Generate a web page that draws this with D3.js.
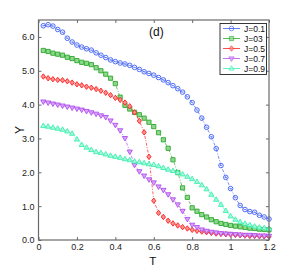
<!DOCTYPE html>
<html>
<head>
<meta charset="utf-8">
<script src="https://cdn.jsdelivr.net/npm/d3@7"></script>
<style>
  body { margin: 0; background: #fff; }
  svg { display: block; font-family: "Liberation Sans", Arial, sans-serif; }
</style>
</head>
<body>
<div class="canva"></div>
<script>
// temperatura T, de 0.025 a 1.2
const tValues = [0.025,0.05,0.075,0.1,0.125,0.15,0.175,0.2,0.225,0.25,0.275,0.3,0.325,0.35,0.375,0.4,
  0.425,0.45,0.475,0.5,0.525,0.55,0.575,0.6,0.625,0.65,0.675,0.7,0.725,0.75,0.775,0.8,
  0.825,0.85,0.875,0.9,0.925,0.95,0.975,1.0,1.025,1.05,1.075,1.1,1.125,1.15,1.175,1.2];

const yJ01 = [6.33,6.36,6.32,6.22,6.14,5.96,5.85,5.76,5.70,5.65,5.61,5.53,5.46,5.39,5.32,5.27,
  5.23,5.20,5.16,5.10,5.04,4.97,4.92,4.87,4.80,4.73,4.65,4.56,4.47,4.37,4.23,4.06,
  3.84,3.60,3.33,3.05,2.70,2.20,1.85,1.52,1.25,1.02,0.90,0.84,0.82,0.73,0.68,0.62];
const yJ03 = [5.60,5.57,5.52,5.49,5.46,5.40,5.36,5.30,5.25,5.22,5.18,5.09,5.00,4.90,4.78,4.62,
  4.22,3.98,3.87,3.77,3.70,3.60,3.48,3.35,3.17,2.96,2.71,2.37,1.99,1.54,1.26,0.95,
  0.85,0.75,0.68,0.60,0.54,0.49,0.46,0.43,0.41,0.39,0.37,0.35,0.34,0.32,0.31,0.30];
const yJ05 = [4.83,4.78,4.75,4.73,4.72,4.69,4.65,4.60,4.57,4.53,4.50,4.46,4.41,4.35,4.28,4.20,
  4.14,4.06,3.95,3.77,3.52,3.18,2.46,1.16,0.80,0.68,0.57,0.49,0.43,0.38,0.34,0.30,
  0.27,0.25,0.23,0.21,0.19,0.18,0.17,0.16,0.15,0.14,0.13,0.12,0.12,0.11,0.11,0.10];
const yJ07 = [4.09,4.06,4.03,4.00,3.97,3.94,3.91,3.88,3.85,3.81,3.77,3.73,3.68,3.63,3.53,3.40,
  3.24,3.01,2.61,2.22,2.03,1.90,1.79,1.70,1.58,1.48,1.35,1.20,1.05,0.86,0.62,0.45,
  0.38,0.31,0.27,0.24,0.22,0.20,0.19,0.18,0.17,0.16,0.15,0.15,0.14,0.13,0.13,0.12];
const yJ09 = [3.37,3.35,3.32,3.29,3.26,3.21,3.14,2.97,2.81,2.73,2.66,2.60,2.57,2.53,2.49,2.46,
  2.43,2.39,2.36,2.32,2.30,2.27,2.24,2.22,2.18,2.13,2.08,2.04,1.99,1.94,1.87,1.80,
  1.72,1.62,1.50,1.34,1.19,1.04,0.86,0.70,0.60,0.53,0.48,0.44,0.40,0.37,0.35,0.33];

const seriesNames = ["J=0.1","J=03","J=0.5","J=0.7","J=0.9"];
const xTicks = [0,0.2,0.4,0.6,0.8,1,1.2];
const yTicks = [0,1,2,3,4,5,6];

const series = [
  { name: seriesNames[0], vals: yJ01, color: "#3d5ef5", fill: "none", shape: "circle" },
  { name: seriesNames[1], vals: yJ03, color: "#2ea82e", fill: "#8fd88f", shape: "square" },
  { name: seriesNames[2], vals: yJ05, color: "#ff2020", fill: "#ff9090", shape: "diamond" },
  { name: seriesNames[3], vals: yJ07, color: "#b04ff0", fill: "#d9a6f7", shape: "down" },
  { name: seriesNames[4], vals: yJ09, color: "#3cf0b0", fill: "#a8f7da", shape: "up" }
];

const W = 298, H = 271;
const m = { left: 38.5, right: 29, top: 20, bottom: 31 };

const svg = d3.select(".canva").append("svg").attr("width", W).attr("height", H);

const x = d3.scaleLinear().domain([0, 1.2]).range([m.left, W - m.right]);
const y = d3.scaleLinear().domain([0, 6.5]).range([H - m.bottom, m.top]);

// marcadores
function markerPath(shape) {
  const s = 2.1;
  if (shape === "square") return `M${-s},${-s}H${s}V${s}H${-s}Z`;
  if (shape === "diamond") return `M0,${-s - 0.6}L${s},0L0,${s + 0.6}L${-s},0Z`;
  if (shape === "down") return `M${-s - 0.5},${-s + 0.5}H${s + 0.5}L0,${s + 0.8}Z`;
  if (shape === "up") return `M${-s - 0.5},${s - 0.5}H${s + 0.5}L0,${-s - 0.8}Z`;
  return null;
}
function drawMarker(g, shape, color, fill) {
  if (shape === "circle") {
    g.append("circle").attr("r", 2.3).attr("fill", "none").attr("stroke", color).attr("stroke-width", 0.9);
    g.append("path").attr("d", "M-1.3,0H1.3").attr("stroke", color).attr("stroke-width", 0.7);
  } else {
    g.append("path").attr("d", markerPath(shape))
      .attr("fill", fill).attr("stroke", color).attr("stroke-width", 0.9);
  }
}

const line = d3.line().x((d, i) => x(tValues[i])).y(d => y(d));

const plot = svg.append("g");
series.forEach(s => {
  plot.append("path").datum(s.vals)
    .attr("d", line)
    .attr("fill", "none")
    .attr("stroke", s.color)
    .attr("stroke-width", 0.7)
    .attr("stroke-dasharray", "3,1.5,1,1.5");
  plot.selectAll(null).data(s.vals).enter().append("g")
    .attr("transform", (d, i) => `translate(${x(tValues[i])},${y(d)})`)
    .each(function() { drawMarker(d3.select(this), s.shape, s.color, s.fill); });
});

// ejes
const axisColor = "#6a6a6a";
const fmt = d3.format("~g");
const gx = svg.append("g").attr("transform", `translate(0,${H - m.bottom})`)
  .call(d3.axisBottom(x).tickValues(xTicks).tickSizeInner(-3).tickSizeOuter(0).tickPadding(4)
    .tickFormat(fmt));
const gxTop = svg.append("g").attr("transform", `translate(0,${m.top})`)
  .call(d3.axisTop(x).tickValues(xTicks).tickSizeInner(-3).tickSizeOuter(0).tickFormat(""));
const gy = svg.append("g").attr("transform", `translate(${m.left},0)`)
  .call(d3.axisLeft(y).tickValues(yTicks).tickSizeInner(-3).tickSizeOuter(0).tickPadding(4));
const gyR = svg.append("g").attr("transform", `translate(${W - m.right},0)`)
  .call(d3.axisRight(y).tickValues(yTicks).tickSizeInner(-3).tickSizeOuter(0).tickFormat(""));

[gx, gxTop, gy, gyR].forEach(g => {
  g.select(".domain").remove();
  g.selectAll(".tick line").attr("stroke", axisColor);
  g.selectAll(".tick text").attr("fill", "#222").attr("font-size", 9)
    .attr("font-family", "Liberation Sans, Arial, sans-serif");
});

svg.append("rect")
  .attr("x", m.left).attr("y", m.top)
  .attr("width", W - m.right - m.left).attr("height", H - m.bottom - m.top)
  .attr("fill", "none").attr("stroke", axisColor).attr("stroke-width", 1.2);

// etiquetas
svg.append("text").attr("x", (m.left + W - m.right) / 2 - 1).attr("y", 265)
  .attr("text-anchor", "middle").attr("font-size", 11.5).attr("fill", "#111").text("T");
svg.append("text").attr("transform", "translate(24,130) rotate(-90)")
  .attr("text-anchor", "middle").attr("font-size", 12).attr("fill", "#111").text("Y");
svg.append("text").attr("x", 149).attr("y", 36)
  .attr("font-size", 12).attr("fill", "#111").text("(d)");

// leyenda
const lg = svg.append("g").attr("transform", "translate(220,23.5)");
lg.append("rect").attr("width", 46.5).attr("height", 51)
  .attr("fill", "#fff").attr("stroke", "#222").attr("stroke-width", 0.9);
series.forEach((s, i) => {
  const row = lg.append("g").attr("transform", `translate(0,${5 + i * 10})`);
  row.append("path").attr("d", "M3,0H20").attr("stroke", s.color).attr("stroke-width", 0.8);
  const mk = row.append("g").attr("transform", "translate(11.5,0)").attr("opacity", 0.75);
  drawMarker(mk, s.shape, s.color, s.fill);
  row.append("text").attr("x", 24).attr("y", 3.2).attr("font-size", 8.5).attr("fill", "#111").text(s.name);
});
</script>
</body>
</html>
